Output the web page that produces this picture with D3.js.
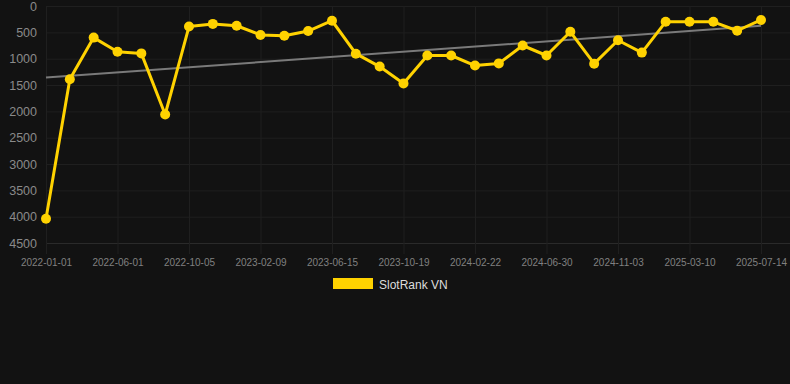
<!DOCTYPE html>
<html><head><meta charset="utf-8">
<script src="https://cdn.jsdelivr.net/npm/d3@7"></script>
<style>
html,body{margin:0;padding:0;background:#121212;}
svg{display:block;font-family:"Liberation Sans",Arial,sans-serif;}
</style></head>
<body><svg id="c" width="790" height="384"></svg>
<script>
const seriesName = "SlotRank VN";
const values = [4040,1390,600,870,900,2060,390,340,375,550,565,475,280,905,1150,1470,940,940,1130,1090,750,940,490,1095,650,885,300,300,300,470,265];
const tickLabels = ["2022-01-01","2022-06-01","2022-10-05","2023-02-09","2023-06-15","2023-10-19","2024-02-22","2024-06-30","2024-11-03","2025-03-10","2025-07-14"];
const yTicks = [0,500,1000,1500,2000,2500,3000,3500,4000,4500];
const tickEvery = 3;

const svg = d3.select("#c");
svg.append("rect").attr("width",790).attr("height",384).attr("fill","#121212");

const idx = values.map((_,i)=>i);
const x = d3.scalePoint().domain(idx).range([46,761]);
const y = d3.scaleLinear().domain([0,4500]).range([6,243]);

// horizontal grid
const gy = svg.append("g").attr("transform","translate(46,0)")
  .call(d3.axisLeft(y).tickValues(yTicks).tickSize(-744).tickPadding(9).tickFormat(d=>d));
gy.select(".domain").remove();
gy.selectAll(".tick line").attr("stroke",d=>d===4500?"#2a2a2a":"#1f1f1f").attr("stroke-width",1);
gy.selectAll(".tick text").attr("fill","#8a8a8a").attr("font-size","12.5px");

// vertical grid / x ticks
const tickIdx = tickLabels.map((_,i)=>i*tickEvery);
const gx = svg.append("g").attr("transform","translate(0,243)")
  .call(d3.axisBottom(x).tickValues(tickIdx).tickSize(11).tickPadding(5)
    .tickFormat((d,i)=>tickLabels[i]));
gx.select(".domain").remove();
gx.selectAll(".tick line").attr("stroke","#1f1f1f").attr("y1",-237);
gx.selectAll(".tick text").attr("fill","#808080").attr("font-size","10px");

// trend line (least squares)
const n = values.length;
const mx = d3.mean(idx), my = d3.mean(values);
const slope = d3.sum(idx,(i)=>(i-mx)*(values[i]-my)) / d3.sum(idx,(i)=>(i-mx)*(i-mx));
const icpt = my - slope*mx;
svg.append("line")
  .attr("x1",x(0)).attr("y1",y(icpt))
  .attr("x2",x(n-1)).attr("y2",y(icpt+slope*(n-1)))
  .attr("stroke","#7a7a7a").attr("stroke-width",2);

// series line
const color = "#FFD200";
svg.append("path").datum(values)
  .attr("fill","none").attr("stroke",color).attr("stroke-width",3).attr("stroke-linejoin","round")
  .attr("d", d3.line().x((d,i)=>x(i)).y(d=>y(d)));
svg.append("g").selectAll("circle").data(values).join("circle")
  .attr("cx",(d,i)=>x(i)).attr("cy",d=>y(d)).attr("r",5).attr("fill",color);

// legend
const lg = svg.append("g");
lg.append("rect").attr("x",333).attr("y",278).attr("width",40).attr("height",11).attr("fill",color);
lg.append("text").attr("x",379).attr("y",288.5).attr("fill","#dddddd").attr("font-size","12px").text(seriesName);
</script>
</body></html>
